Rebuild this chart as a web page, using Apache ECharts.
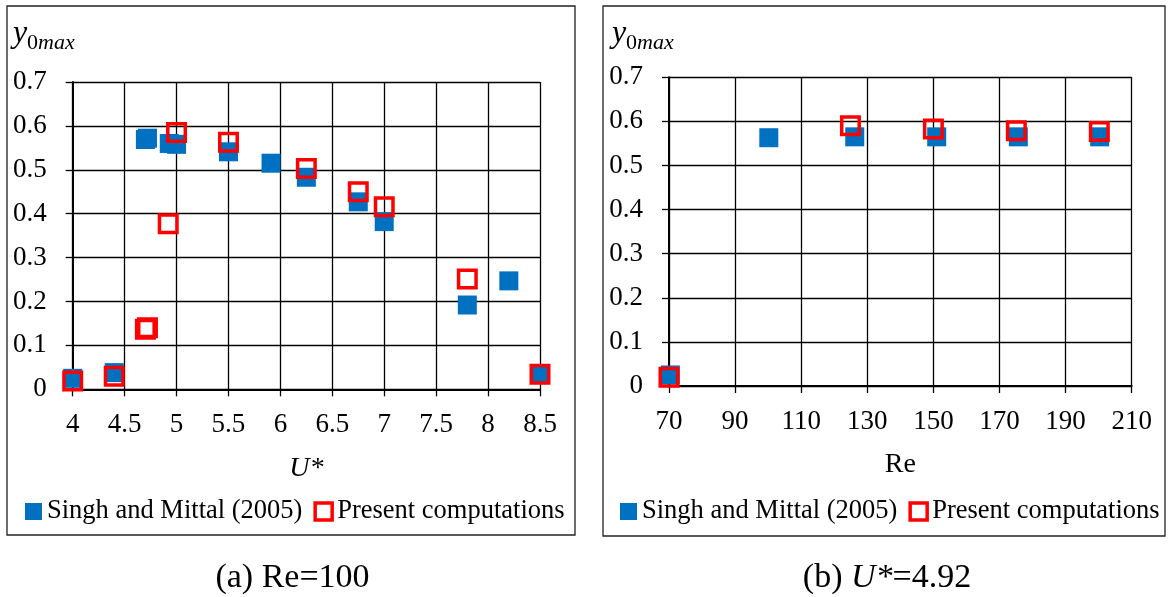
<!DOCTYPE html>
<html><head><meta charset="utf-8">
<script src="https://cdn.jsdelivr.net/npm/echarts@6/dist/echarts.min.js"></script>
<style>html,body{margin:0;padding:0;background:#fff}#c{width:1169px;height:597px}</style>
</head><body><div id="c"></div>
<script>
// ---------- data ----------
const seriesNames = ['Singh and Mittal (2005)', 'Present computations'];
const uTicks = [4, 4.5, 5, 5.5, 6, 6.5, 7, 7.5, 8, 8.5];
const reTicks = [70, 90, 110, 130, 150, 170, 190, 210];
const yTicks = [0, 0.1, 0.2, 0.3, 0.4, 0.5, 0.6, 0.7];

// (a) Re = 100 : [U*, y0max]
const singhU = [[4.0, 0.025], [4.4, 0.038], [4.7, 0.569], [4.72, 0.572], [4.93, 0.56], [5.0, 0.558],
  [5.5, 0.541], [5.91, 0.515], [6.25, 0.483], [6.75, 0.427], [7.0, 0.382], [7.8, 0.192], [8.2, 0.247], [8.5, 0.034]];
const presentU = [[4.0, 0.019], [4.4, 0.03], [4.7, 0.137], [4.72, 0.14], [4.92, 0.377], [5.0, 0.585],
  [5.5, 0.563], [6.25, 0.503], [6.75, 0.45], [7.0, 0.416], [7.8, 0.251], [8.5, 0.034]];

// (b) U* = 4.92 : [Re, y0max]
const singhRe = [[70.4, 0.025], [100.2, 0.563], [126.2, 0.565], [151, 0.565], [175.7, 0.565], [200.3, 0.565]];
const presentRe = [[70, 0.02], [124.9, 0.59], [150, 0.583], [175.1, 0.579], [200.2, 0.577]];

// ---------- styles ----------
const FONT = 'Liberation Serif';
const BLUE = '#0070C0';
const RED = '#FF0000';

function xAxisCfg(gi, ticks, name, nameStyle) {
  return {
    type: 'value', gridIndex: gi,
    min: ticks[0], max: ticks[ticks.length - 1],
    interval: ticks[1] - ticks[0],
    name: name, nameLocation: 'middle', nameGap: 65,
    nameTextStyle: Object.assign({ fontFamily: FONT, fontSize: 28, color: '#000' }, nameStyle || {}),
    axisLine: { show: true, onZero: false, lineStyle: { color: '#000', width: 2 } },
    axisTick: { show: true, inside: false, length: 7, lineStyle: { color: '#000', width: 1.3 }, customValues: ticks },
    axisLabel: { margin: 22, fontFamily: FONT, fontSize: 27, color: '#000', customValues: ticks, showMinLabel: true, showMaxLabel: true },
    splitLine: { show: true, lineStyle: { color: '#000', width: 1.3 } }
  };
}
function yAxisCfg(gi) {
  return {
    type: 'value', gridIndex: gi,
    min: yTicks[0], max: yTicks[yTicks.length - 1], interval: 0.1,
    axisLine: { show: true, onZero: false, lineStyle: { color: '#000', width: 2 } },
    axisTick: { show: true, inside: false, length: 7, lineStyle: { color: '#000', width: 1.3 } },
    axisLabel: { margin: 26, fontFamily: FONT, fontSize: 27, color: '#000', formatter: v => String(+v.toFixed(1)) },
    splitLine: { show: true, lineStyle: { color: '#000', width: 1.3 } }
  };
}
const singhStyle = { symbol: 'rect', symbolSize: 19, itemStyle: { color: BLUE, opacity: 1 } };
const presentStyle = { symbol: 'rect', symbolSize: 17.5, itemStyle: { color: 'rgba(0,0,0,0)', borderColor: RED, borderWidth: 3.5, opacity: 1 } };

function legendCfg(left) {
  return {
    left: left, top: 498, width: 600, padding: 0, itemGap: 11, itemWidth: 17, itemHeight: 17,
    textStyle: { fontFamily: FONT, fontSize: 26.5, color: '#000' },
    data: [
      { name: seriesNames[0], icon: 'rect', itemStyle: { color: BLUE, borderWidth: 0, opacity: 1 } },
      { name: seriesNames[1], icon: 'rect', itemStyle: { color: '#fff', borderColor: RED, borderWidth: 3.5, opacity: 1 } }
    ]
  };
}

const chart = echarts.init(document.getElementById('c'), null, { renderer: 'canvas' });
chart.setOption({
  animation: false,
  backgroundColor: '#fff',
  grid: [
    { left: 72.7, top: 82, width: 467.3, height: 307.3 },
    { left: 669, top: 77.3, width: 462.7, height: 308.7 }
  ],
  xAxis: [xAxisCfg(0, uTicks, 'U*', { fontStyle: 'italic' }), xAxisCfg(1, reTicks, 'Re')],
  yAxis: [yAxisCfg(0), yAxisCfg(1)],
  legend: [legendCfg(25), legendCfg(620)],
  series: [
    Object.assign({ type: 'scatter', name: seriesNames[0], xAxisIndex: 0, yAxisIndex: 0, data: singhU, z: 2 }, singhStyle),
    Object.assign({ type: 'scatter', name: seriesNames[1], xAxisIndex: 0, yAxisIndex: 0, data: presentU, z: 3 }, presentStyle),
    Object.assign({ type: 'scatter', name: seriesNames[0], xAxisIndex: 1, yAxisIndex: 1, data: singhRe, z: 2 }, singhStyle),
    Object.assign({ type: 'scatter', name: seriesNames[1], xAxisIndex: 1, yAxisIndex: 1, data: presentRe, z: 3 }, presentStyle)
  ],
  graphic: [
    { type: 'rect', shape: { x: 7, y: 6, width: 568, height: 529 }, style: { fill: 'none', stroke: '#222', lineWidth: 1.3 }, z: 0 },
    { type: 'rect', shape: { x: 603, y: 6, width: 562, height: 530 }, style: { fill: 'none', stroke: '#222', lineWidth: 1.3 }, z: 0 },
    { type: 'text', x: 13, y: 34, style: { text: 'y', font: 'italic 32px ' + FONT, fill: '#000', verticalAlign: 'middle' } },
    { type: 'text', x: 27, y: 43, style: { text: '{n|0}{m|max}', fill: '#000', verticalAlign: 'middle',
        rich: { n: { fontFamily: FONT, fontSize: 22 }, m: { fontFamily: FONT, fontSize: 22, fontStyle: 'italic' } } } },
    { type: 'text', x: 612, y: 34, style: { text: 'y', font: 'italic 32px ' + FONT, fill: '#000', verticalAlign: 'middle' } },
    { type: 'text', x: 626, y: 43, style: { text: '{n|0}{m|max}', fill: '#000', verticalAlign: 'middle',
        rich: { n: { fontFamily: FONT, fontSize: 22 }, m: { fontFamily: FONT, fontSize: 22, fontStyle: 'italic' } } } },
    { type: 'text', x: 292.5, y: 578, style: { text: '(a) Re=100', font: '34px ' + FONT, fill: '#000', align: 'center', verticalAlign: 'middle' } },
    { type: 'text', x: 887, y: 578, style: { text: '(b) {i|U*}=4.92', fill: '#000', align: 'center', verticalAlign: 'middle',
        font: '34px ' + FONT, rich: { i: { fontFamily: FONT, fontSize: 34, fontStyle: 'italic' } } } }
  ]
});
</script>
</body></html>
